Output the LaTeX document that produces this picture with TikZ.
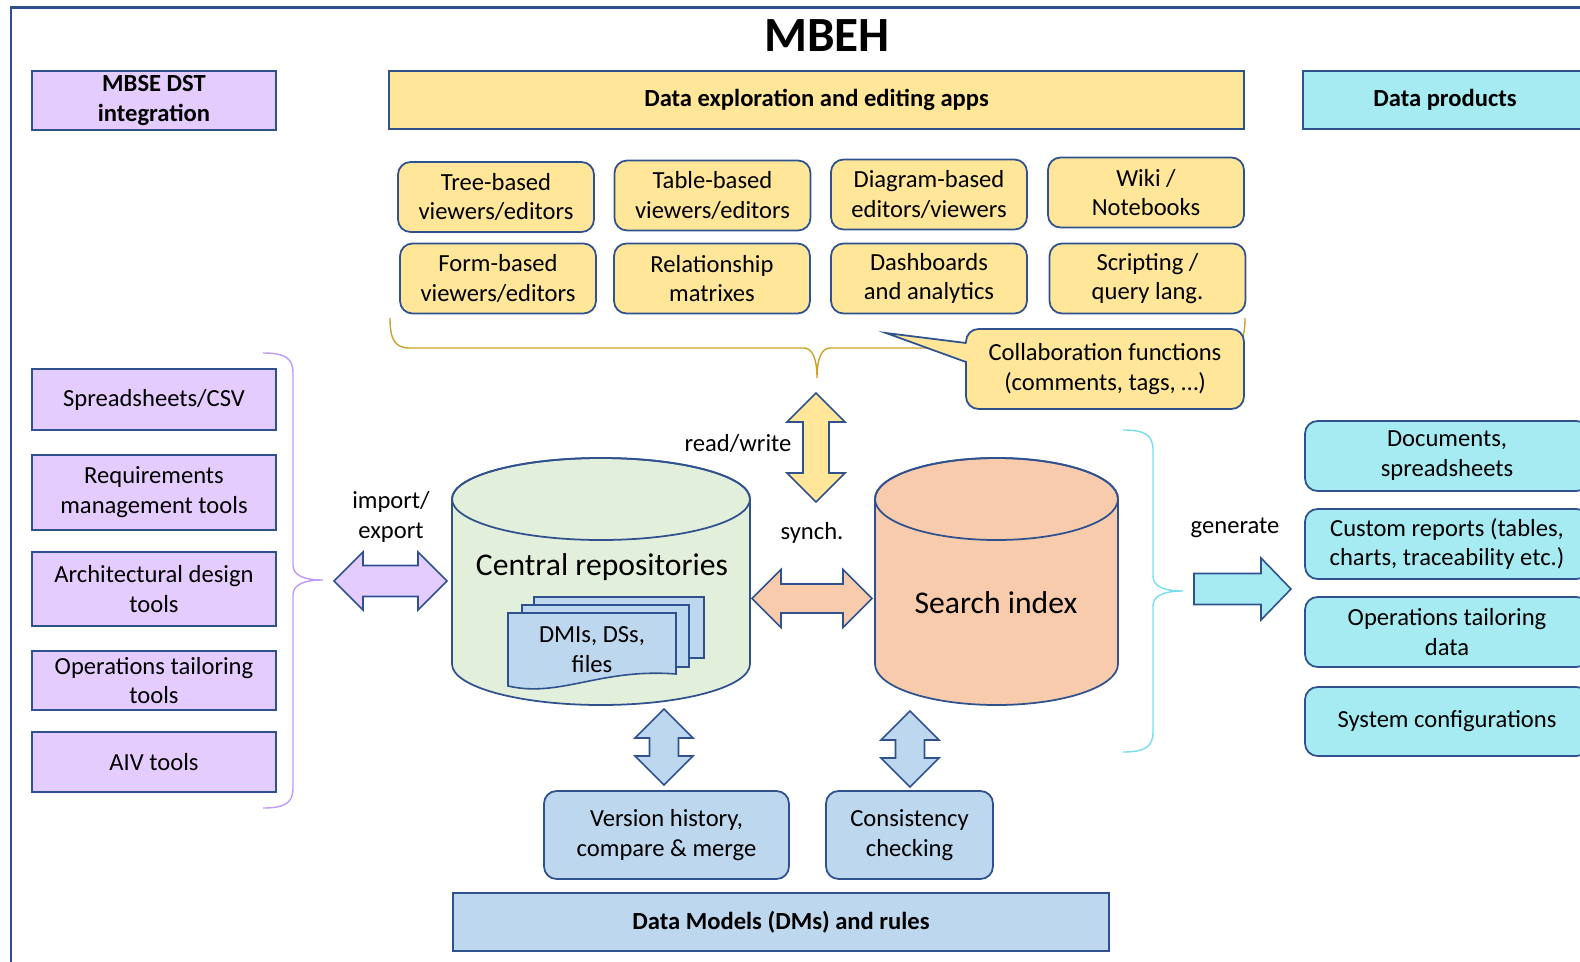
\documentclass[tikz,border=0pt]{standalone}
\usepackage{fontspec}
\setmainfont{Carlito}

\definecolor{edgeblue}{HTML}{2F528F}
\definecolor{lavender}{HTML}{E5CCFF}
\definecolor{appyellow}{HTML}{FFE699}
\definecolor{prodcyan}{HTML}{A6EBF2}
\definecolor{repogreen}{HTML}{E2EFDA}
\definecolor{indexpeach}{HTML}{F8CBAD}
\definecolor{modelblue}{HTML}{BDD7EE}
\definecolor{bracegold}{HTML}{C9A227}
\definecolor{bracepurple}{HTML}{C09AF7}
\definecolor{bracecyan}{HTML}{7ADDEB}

\tikzset{
  pics/dblarrow/.style 2 args={code={
    \draw[pic actions] (-#1/2,0) -- (-#1/2+29,-29) -- (-#1/2+29,-#2) -- (#1/2-29,-#2)
      -- (#1/2-29,-29) -- (#1/2,0) -- (#1/2-29,29) -- (#1/2-29,#2)
      -- (-#1/2+29,#2) -- (-#1/2+29,29) -- cycle;
  }}
}

\begin{document}
\begin{tikzpicture}[x=0.02cm, y=-0.02cm,
    every node/.style={font=\fontsize{14}{17}\selectfont, align=center, inner sep=0pt},
    headbox/.style={draw=edgeblue, line width=1pt, minimum height=1.17cm,
      font=\fontsize{14}{17}\selectfont\bfseries},
    toolbox/.style={draw=edgeblue, line width=1pt, fill=lavender, minimum width=4.88cm},
    appbox/.style={draw=edgeblue, line width=1pt, fill=appyellow, rounded corners=0.25cm,
      minimum width=3.92cm, minimum height=1.4cm},
    prodbox/.style={draw=edgeblue, line width=1pt, fill=prodcyan, rounded corners=0.25cm,
      minimum width=5.68cm, minimum height=1.4cm},
    modelbox/.style={draw=edgeblue, line width=1pt, fill=modelblue, rounded corners=0.25cm,
      minimum height=1.76cm},
    blockarrow/.style={draw=edgeblue, line width=0.9pt},
    bigtext/.style={font=\fontsize{18}{22}\selectfont}]

  \clip (0,0) rectangle (1580,961);

  % Marco exterior
  \draw[edgeblue, line width=1.5pt] (11,1000) -- (11,7.5) -- (1620,7.5);

  % Titulo
  \node[font=\fontsize{28}{32}\selectfont\bfseries] (title) at (827,36) {MBEH};

  % Cabeceras
  \node[headbox, fill=lavender, minimum width=4.88cm] (mbse) at (154,100.5) {MBSE DST\\integration};
  \node[headbox, fill=appyellow, minimum width=17.1cm] (apps) at (816.5,100) {Data exploration and editing apps};
  \node[headbox, fill=prodcyan, minimum width=5.68cm] (products) at (1445,100) {Data products};

  % Aplicaciones
  \node[appbox] (tree) at (496,197) {Tree-based\\viewers/editors};
  \node[appbox] (table) at (712.5,195.5) {Table-based\\viewers/editors};
  \node[appbox] (diagram) at (929,194.5) {Diagram-based\\editors/viewers};
  \node[appbox] (wiki) at (1146,192.5) {Wiki /\\Notebooks};
  \node[appbox] (form) at (498,278.5) {Form-based\\viewers/editors};
  \node[appbox] (matrix) at (712,278.5) {Relationship\\matrixes};
  \node[appbox] (dash) at (929,278.5) {Dashboards\\and analytics};
  \node[appbox] (script) at (1147.5,278.5) {Scripting /\\query lang.};

  % Llave bajo las aplicaciones
  \draw[bracegold, line width=0.8pt] (390,318) .. controls (390,340) and (395,348) .. (410,348)
    -- (804,348) .. controls (812,348) and (817,358) .. (817,378)
    .. controls (817,358) and (822,348) .. (830,348) -- (1225,348)
    .. controls (1240,348) and (1245,340) .. (1245,318);

  % Globo de colaboracion
  \node[appbox, minimum width=5.56cm, minimum height=1.6cm] (collab) at (1105,369)
    {Collaboration functions\\(comments, tags, …)};
  \fill[appyellow] (968,343.5) -- (886,333) -- (968,361.5) -- cycle;
  \draw[edgeblue, line width=1pt, line join=miter] (966,343) -- (886,333) -- (966,362);

  % Herramientas MBSE
  \node[toolbox, minimum height=1.22cm] (csv) at (154,399.5) {Spreadsheets/CSV};
  \node[toolbox, minimum height=1.5cm] (req) at (154,492.5) {Requirements\\management tools};
  \node[toolbox, minimum height=1.48cm] (arch) at (154,589) {Architectural design\\tools};
  \node[toolbox, minimum height=1.18cm] (opstools) at (154,680.5) {Operations tailoring\\tools};
  \node[toolbox, minimum height=1.2cm] (aiv) at (154,762) {AIV tools};

  \draw[bracepurple, line width=0.8pt] (263,353) .. controls (285,353) and (293,358) .. (293,373)
    -- (293,565) .. controls (293,575) and (303,580) .. (323,580)
    .. controls (303,580) and (293,585) .. (293,595) -- (293,788)
    .. controls (293,803) and (285,808) .. (263,808);

  % Repositorio central
  \filldraw[fill=repogreen, draw=edgeblue, line width=1pt] (452,499) -- (452,664)
    arc[start angle=180, end angle=0, x radius=149, y radius=41] -- (750,499)
    arc[start angle=0, end angle=-180, x radius=149, y radius=41] -- cycle;
  \draw[edgeblue, line width=1pt] (601,499) ellipse[x radius=149, y radius=41];
  \node[bigtext] (repo) at (602,567) {Central repositories};

  % Pila de documentos
  \filldraw[fill=modelblue, draw=edgeblue, line width=0.9pt] (534,597) rectangle (704,658);
  \filldraw[fill=modelblue, draw=edgeblue, line width=0.9pt] (522,605) rectangle (689,667);
  \filldraw[fill=modelblue, draw=edgeblue, line width=0.9pt] (508,613) -- (676,613) -- (676,674)
    .. controls (600,668) and (560,698) .. (508,686) -- cycle;
  \node (docs) at (592,650) {DMIs, DSs,\\files};

  % Indice de busqueda
  \filldraw[fill=indexpeach, draw=edgeblue, line width=1pt] (875,499) -- (875,664)
    arc[start angle=180, end angle=0, x radius=121.5, y radius=41] -- (1118,499)
    arc[start angle=0, end angle=-180, x radius=121.5, y radius=41] -- cycle;
  \draw[edgeblue, line width=1pt] (996.5,499) ellipse[x radius=121.5, y radius=41];
  \node[bigtext] (search) at (996,603) {Search index};

  % Flechas dobles
  \pic[blockarrow, fill=lavender] at (390.5,581) {dblarrow={113}{15.5}};
  \pic[blockarrow, fill=indexpeach] at (812,598.5) {dblarrow={120}{14.5}};
  \pic[blockarrow, fill=appyellow, rotate=90] at (816,447.5) {dblarrow={109}{13}};
  \pic[blockarrow, fill=modelblue, rotate=90] at (664,747) {dblarrow={76}{14.5}};
  \pic[blockarrow, fill=modelblue, rotate=90] at (910,749) {dblarrow={76}{14.5}};

  % Etiquetas de las flechas
  \node (iolabel) at (391,517) {import/\\export};
  \node (rwlabel) at (738,443) {read/write};
  \node (synchlabel) at (812,533) {synch.};
  \node (genlabel) at (1235,528) {generate};

  % Llave y flecha hacia los productos
  \draw[bracecyan, line width=0.8pt] (1123,430) .. controls (1145,430) and (1153,435) .. (1153,450)
    -- (1153,576) .. controls (1153,586) and (1163,591) .. (1183,591)
    .. controls (1163,591) and (1153,596) .. (1153,606) -- (1153,732)
    .. controls (1153,747) and (1145,752) .. (1123,752);
  \filldraw[blockarrow, fill=prodcyan] (1194,573.5) -- (1261,573.5) -- (1261,558) -- (1291,589)
    -- (1261,620) -- (1261,604.5) -- (1194,604.5) -- cycle;

  % Productos de datos
  \node[prodbox] (docprod) at (1447,456) {Documents,\\spreadsheets};
  \node[prodbox] (reports) at (1447,544) {Custom reports (tables,\\charts, traceability etc.)};
  \node[prodbox] (opsdata) at (1447,632) {Operations tailoring\\data};
  \node[prodbox, minimum height=1.38cm] (sysconf) at (1447,721.5) {System configurations};

  % Servicios y modelos de datos
  \node[modelbox, minimum width=4.9cm] (version) at (666.5,835) {Version history,\\compare \& merge};
  \node[modelbox, minimum width=3.34cm] (consist) at (909.5,835) {Consistency\\checking};
  \node[headbox, fill=modelblue, minimum width=13.12cm] (models) at (781,922) {Data Models (DMs) and rules};
\end{tikzpicture}
\end{document}
